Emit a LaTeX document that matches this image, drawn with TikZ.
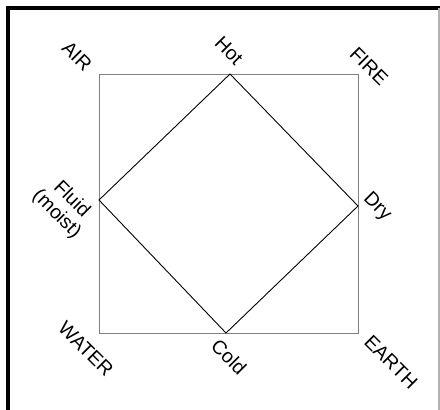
\documentclass[tikz,border=0pt]{standalone}
\usepackage{fontspec}
\setmainfont{Liberation Sans}
\begin{document}
\begin{tikzpicture}[x=1pt,y=-1pt,
  lbl/.style={rotate=-45,font=\fontsize{19.5}{21}\selectfont,inner sep=0pt,align=center},
  sq/.style={draw=black!50,line width=0.8pt},
  dia/.style={draw=black,line width=0.9pt,line join=miter},
  frame/.style={draw=black,line width=3.2pt}]
\useasboundingbox (0,0) rectangle (440,410);
% outer frame
\draw[frame] (8,410) -- (8,8) -- (440,8);
\draw[draw=black!30,line width=1.2pt] (439,8) -- (439,410);
% square corners
\coordinate (a) at (99,74);
\coordinate (f) at (358,74);
\coordinate (e) at (358,333);
\coordinate (w) at (99,333);
\draw[sq] (a) -- (f) -- (e) -- (w) -- cycle;
% diamond vertices
\coordinate (hot) at (230,74);
\coordinate (dry) at (358,206);
\coordinate (cold) at (226,333);
\coordinate (fluid) at (99,200);
\draw[dia] (hot) -- (dry) -- (cold) -- (fluid) -- cycle;
% labels
\node[lbl] (lair) at (77,56) {AIR};
\node[lbl] (lhot) at (229,51) {Hot};
\node[lbl] (lfire) at (369,66) {FIRE};
\node[lbl] (lfluid) at (64,207) {Fluid\\(moist)};
\node[lbl] (ldry) at (377,207) {Dry};
\node[lbl] (lwater) at (86,349) {WATER};
\node[lbl] (lcold) at (229,357) {Cold};
\node[lbl] (learth) at (391,362) {EARTH};
\end{tikzpicture}
\end{document}
